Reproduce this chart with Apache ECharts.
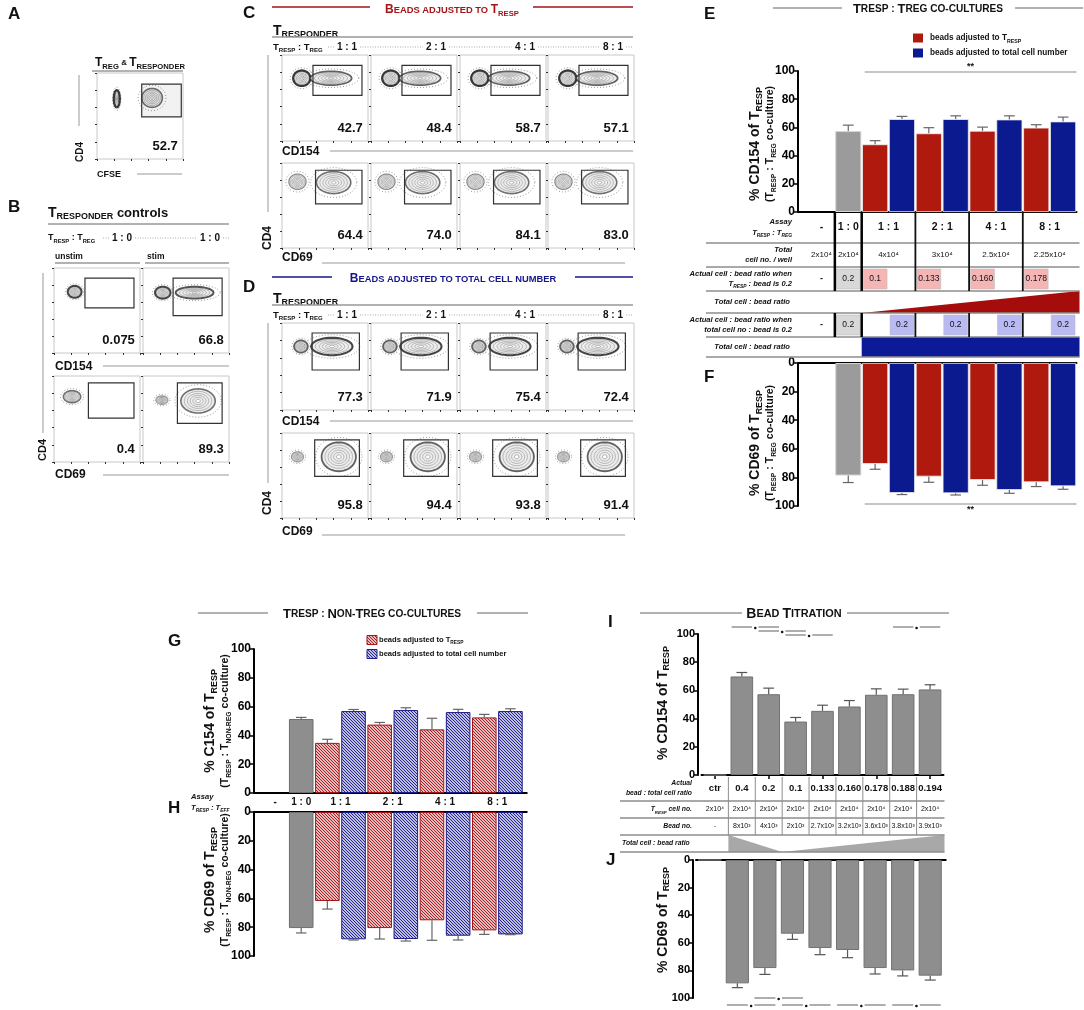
<!DOCTYPE html>
<html lang="en">
<head>
<meta charset="UTF-8" />
<title>Tresp : Treg co-cultures and bead titration</title>
<script src="https://cdn.jsdelivr.net/npm/echarts@6/dist/echarts.min.js"></script>
<style>
  body { margin: 0; background: #fff; }
  #chart { width: 1084px; height: 1010px; }
</style>
</head>
<body>
<div id="chart"></div>
<script>
const FONT = "'Liberation Sans', Arial, sans-serif";

// ---------- E / F : Tresp : Treg co-cultures ----------
const coRatios = ['-', '1 : 0', '1 : 1', '2 : 1', '4 : 1', '8 : 1'];
const eCtrl = [57.4, 61.6];            // [mean, mean + error]
const eResp = [48.0, 55.8, 57.6, 59.8];
const eRespHi = [50.6, 59.8, 60.2, 61.9];
const eTotal = [65.9, 65.9, 65.6, 64.2];
const eTotalHi = [67.8, 68.2, 68.2, 67.3];
const fCtrl = [78.7, 83.6];
const fResp = [70.6, 79.4, 81.8, 83.4];
const fRespHi = [74.3, 83.4, 85.5, 86.4];
const fTotal = [90.9, 91.1, 88.8, 86.2];
const fTotalHi = [92.0, 92.3, 91.1, 88.3];
const eTotalCells = ['2x10⁴', '2x10⁴', '4x10⁴', '3x10⁴', '2.5x10⁴', '2.25x10⁴'];
const eRatioResp = ['-', '0.2', '0.1', '0.133', '0.160', '0.178'];
const eRatioTotal = ['-', '0.2', '0.2', '0.2', '0.2', '0.2'];

// ---------- G / H : Tresp : non-Treg co-cultures ----------
const gCtrl = [51.4, 52.5];
const gResp = [34.8, 47.5, 44.2, 52.5];
const gRespHi = [37.3, 49.0, 51.9, 54.6];
const gTotal = [56.9, 57.6, 56.2, 56.9];
const gTotalHi = [58.0, 59.2, 58.1, 58.5];
const hCtrl = [80.6, 84.0];
const hResp = [61.8, 80.6, 75.2, 82.2];
const hRespHi = [67.4, 88.2, 89.1, 85.0];
const hTotal = [88.4, 88.2, 85.9, 85.0];
const hTotalHi = [88.9, 89.6, 88.9, 85.2];

// ---------- I / J : bead titration ----------
const iRatios = ['ctr', '0.4', '0.2', '0.1', '0.133', '0.160', '0.178', '0.188', '0.194'];
const iTrespCells = ['2x10⁴', '2x10⁴', '2x10⁴', '2x10⁴', '2x10⁴', '2x10⁴', '2x10⁴', '2x10⁴', '2x10⁴'];
const iBeads = ['-', '8x10³', '4x10³', '2x10³', '2.7x10³', '3.2x10³', '3.6x10³', '3.8x10³', '3.9x10³'];
const iCD154 = [0, 69.9, 57.3, 37.9, 45.5, 48.6, 56.9, 57.3, 60.7];
const iCD154Hi = [null, 72.7, 61.6, 40.8, 49.5, 52.8, 61.1, 60.9, 64.0];
const jCD69 = [0, 89.4, 78.3, 53.4, 63.8, 65.2, 78.3, 80.0, 83.8];
const jCD69Hi = [null, 92.5, 82.9, 57.5, 68.6, 70.8, 82.6, 84.0, 87.0];
const iSig = [[1, 2, 0], [2, 3, 1], [3, 4, 2], [7, 8, 0]];     // [cat a, cat b, row]
const jSig = [[1, 2, 1], [2, 3, 0], [3, 4, 1], [5, 6, 1], [7, 8, 1]];

// ---------- A-D : flow plots (populations: [cx, cy, rx, ry, weight], gates: [x0, y0, x1, y1]) ----------
const cdRatios = ['1 : 1', '2 : 1', '4 : 1', '8 : 1'];
const aPops = [[0.23, 0.70, 0.035, 0.10, 0.9], [0.64, 0.71, 0.12, 0.11, 0.5]];
const aGate = [0.52, 0.49, 0.98, 0.87];
const aPct = '52.7';
const bPops = [
  [[0.24, 0.72, 0.08, 0.07, 0.8]],
  [[0.23, 0.71, 0.09, 0.07, 0.8], [0.60, 0.71, 0.22, 0.07, 0.7]],
  [[0.21, 0.76, 0.10, 0.07, 0.5]],
  [[0.22, 0.72, 0.07, 0.05, 0.2], [0.64, 0.71, 0.20, 0.14, 0.5]]
];
const bGates = [[0.36, 0.53, 0.93, 0.88], [0.35, 0.44, 0.92, 0.88], [0.40, 0.51, 0.93, 0.92], [0.40, 0.45, 0.92, 0.92]];
const bPct = ['0.075', '66.8', '0.4', '89.3'];
const c154Pops = [[0.23, 0.73, 0.10, 0.09, 0.9], [0.57, 0.73, 0.24, 0.08, 0.6]];
const c154Gate = [0.36, 0.53, 0.93, 0.88];
const c154Pct = ['42.7', '48.4', '58.7', '57.1'];
const c69Pops = [[0.18, 0.78, 0.10, 0.09, 0.3], [0.60, 0.77, 0.20, 0.13, 0.5]];
const c69Gate = [0.39, 0.52, 0.93, 0.915];
const c69Pct = ['64.4', '74.0', '84.1', '83.0'];
const d154Pops = [[0.22, 0.73, 0.08, 0.07, 0.6], [0.58, 0.73, 0.24, 0.10, 0.8]];
const d154Gate = [0.35, 0.46, 0.90, 0.885];
const d154Pct = ['77.3', '71.9', '75.4', '72.4'];
const d69Pops = [[0.18, 0.72, 0.07, 0.06, 0.2], [0.66, 0.72, 0.20, 0.17, 0.6]];
const d69Gate = [0.38, 0.49, 0.90, 0.92];
const d69Pct = ['95.8', '94.4', '93.8', '91.4'];

const RED = '#b01a0e', BLUE = '#0c1a90', GREY = '#9b9b9b';

// ---------- helpers ----------
function rich(spec, o = {}) {
  const out = {};
  for (const k in spec) {
    const [size, va] = spec[k];
    out[k] = { fontFamily: FONT, fontWeight: o.weight || 'bold', fontStyle: o.italic ? 'italic' : 'normal', fontSize: size };
    if (va) out[k].verticalAlign = va; else out[k].lineHeight = size + 3;
  }
  return out;
}
function rs(size, o = {}) {
  const n = o.n || size * 0.75;
  return rich({ m: [size], T: [size], A: [size], a: [size * 0.78], s: [size * 0.64, 'bottom'],
    n: [n], t: [n * 0.65, 'bottom'] }, o);
}
// small caps: capitals big, lower case as small capitals
function sc(str) {
  let out = '', cur = null, buf = '';
  for (const ch of str) {
    const t = (ch >= 'A' && ch <= 'Z') ? 'A' : 'a';
    if (t !== cur && buf) { out += '{' + cur + '|' + buf + '}'; buf = ''; }
    cur = t; buf += ch.toUpperCase();
  }
  if (buf) out += '{' + cur + '|' + buf + '}';
  return out;
}
function hatch(color) {
  const c = document.createElement('canvas');
  c.width = c.height = 3;
  const x = c.getContext('2d');
  x.fillStyle = '#fff'; x.fillRect(0, 0, 3, 3);
  x.strokeStyle = color; x.lineWidth = 1.1;
  x.beginPath();
  x.moveTo(-1, -1); x.lineTo(4, 4);
  x.moveTo(-1, 2); x.lineTo(1, 4);
  x.moveTo(2, -1); x.lineTo(4, 1);
  x.stroke();
  return { image: c, repeat: 'repeat' };
}

const chart = echarts.init(document.getElementById('chart'));
const grid = [], xAxis = [], yAxis = [], series = [];

function errItem(color) {
  return function (params, api) {
    const x = api.value(0);
    const p0 = api.coord([x, api.value(1)]);
    const p1 = api.coord([x, api.value(2)]);
    const w = api.size([1, 0])[0] * 0.2;
    const st = { stroke: color, lineWidth: 1.2 };
    return { type: 'group', children: [
      { type: 'line', shape: { x1: p0[0], y1: p0[1], x2: p1[0], y2: p1[1] }, style: st },
      { type: 'line', shape: { x1: p1[0] - w, y1: p1[1], x2: p1[0] + w, y2: p1[1] }, style: st }
    ] };
  };
}

function barPanel(box, cats, inverse, offset, labelSize, xTicks) {
  const i = grid.length;
  grid.push({ left: box[0], top: box[1], width: box[2], height: box[3] });
  xAxis.push({ gridIndex: i, type: 'category', data: cats, position: inverse ? 'top' : 'bottom',
    axisLine: { onZero: false, lineStyle: { color: '#000', width: 2 } },
    axisTick: { show: !!xTicks, alignWithLabel: true, length: 4, lineStyle: { color: '#000', width: 1.5 } },
    axisLabel: { show: false }, splitLine: { show: false } });
  yAxis.push({ gridIndex: i, type: 'value', min: 0, max: 100, interval: 20, inverse: inverse, offset: offset,
    axisLine: { show: true, lineStyle: { color: '#000', width: 2 } },
    axisTick: { show: true, length: 4, lineStyle: { color: '#000', width: 1.5 } },
    axisLabel: { fontFamily: FONT, fontWeight: 'bold', fontSize: labelSize, color: '#000', margin: 3 },
    splitLine: { show: false } });
  return i;
}

function slotCats(r) {
  return [r[0], r[1]].concat(...r.slice(2).map(x => [x + ' a', x + ' b']));
}

function pairedSeries(ax, ctrl, resp, respHi, total, totalHi, st) {
  const n = 2 + resp.length * 2;
  const grey = Array(n).fill(null), red = Array(n).fill(null), blue = Array(n).fill(null);
  grey[1] = ctrl[0];
  const err = [[1, ctrl[0], ctrl[1]]];
  resp.forEach((v, k) => { red[2 + 2 * k] = v; err.push([2 + 2 * k, v, respHi[k]]); });
  total.forEach((v, k) => { blue[3 + 2 * k] = v; err.push([3 + 2 * k, v, totalHi[k]]); });
  const base = { type: 'bar', xAxisIndex: ax, yAxisIndex: ax, stack: 's' + ax, barCategoryGap: st.gap, silent: true };
  series.push(Object.assign({}, base, { data: grey, itemStyle: st.grey }));
  series.push(Object.assign({}, base, { data: red, itemStyle: st.red }));
  series.push(Object.assign({}, base, { data: blue, itemStyle: st.blue }));
  series.push({ type: 'custom', xAxisIndex: ax, yAxisIndex: ax, data: err, encode: { x: 0, y: [1, 2] },
    renderItem: errItem('#666'), silent: true, z: 5 });
}

// ---------- bar panels ----------
const slotsE = slotCats(coRatios);
const solid = {
  gap: '3%',
  grey: { color: GREY, borderColor: '#d4d4d4', borderWidth: 1 },
  red: { color: RED, borderColor: '#f0f0f0', borderWidth: 0.8 },
  blue: { color: BLUE, borderColor: '#f0f0f0', borderWidth: 0.8 }
};
const hatched = {
  gap: '6%',
  grey: { color: '#8e8e8e', borderColor: '#6e6e6e', borderWidth: 1 },
  red: { color: hatch('#a3161a'), borderColor: '#a3161a', borderWidth: 1 },
  blue: { color: hatch('#1c1c8a'), borderColor: '#1c1c8a', borderWidth: 1 }
};
const axE = barPanel([808, 71, 268.5, 141], slotsE, false, 10, 12);
pairedSeries(axE, eCtrl, eResp, eRespHi, eTotal, eTotalHi, solid);
const axF = barPanel([808, 363, 268.5, 143], slotsE, true, 10, 12);
pairedSeries(axF, fCtrl, fResp, fRespHi, fTotal, fTotalHi, solid);
const axG = barPanel([262, 649, 261.5, 144], slotsE, false, 8, 12);
pairedSeries(axG, gCtrl, gResp, gRespHi, gTotal, gTotalHi, hatched);
const axH = barPanel([262, 812, 261.5, 144], slotsE, true, 8, 12);
pairedSeries(axH, hCtrl, hResp, hRespHi, hTotal, hTotalHi, hatched);

function titrationPanel(box, inverse, offset, vals, hi, ticks) {
  const ax = barPanel(box, iRatios, inverse, offset, 11, ticks);
  series.push({ type: 'bar', xAxisIndex: ax, yAxisIndex: ax, data: vals, barCategoryGap: '16%', silent: true,
    itemStyle: { color: '#8e8e8e', borderColor: '#727272', borderWidth: 1 } });
  const err = [];
  vals.forEach((v, k) => { if (hi[k] != null) err.push([k, v, hi[k]]); });
  series.push({ type: 'custom', xAxisIndex: ax, yAxisIndex: ax, data: err, encode: { x: 0, y: [1, 2] },
    renderItem: errItem('#555'), silent: true, z: 5 });
  return ax;
}
const axI = titrationPanel([701.5, 634, 242, 141], false, 3.5, iCD154, iCD154Hi, true);
const axJ = titrationPanel([696, 860, 248, 138], true, 3, jCD69, jCD69Hi, false);

// ---------- flow plots ----------
function ellipse(cx, cy, a, b) {
  const p = [];
  for (let k = 0; k < 44; k++) {
    const t = k / 44 * Math.PI * 2;
    p.push([cx + a * Math.cos(t), cy + b * Math.sin(t)]);
  }
  return p;
}
function contourItem(params, api) {
  const c = api.coord([api.value(0), api.value(1)]);
  const a = api.size([api.value(2), 0])[0], b = api.size([0, api.value(3)])[1];
  const w = api.value(4);
  const kids = [];
  const ring = (f, style) => kids.push({ type: 'polygon', shape: { points: ellipse(c[0], c[1], a * f, b * f) }, style });
  ring(1.35, { fill: 'none', stroke: '#777', lineWidth: 0.9, lineDash: [0.8, 2.2] });
  ring(1.0, { fill: '#ececec', stroke: 'rgba(30,30,30,' + (0.3 + 0.65 * w) + ')', lineWidth: 0.8 + 1.6 * w });
  [0.8, 0.62, 0.46, 0.3].forEach(f => ring(f, { fill: 'none', stroke: 'rgba(70,70,70,0.45)', lineWidth: 0.7 }));
  ring(0.13, { fill: '#fff', stroke: 'rgba(70,70,70,0.55)', lineWidth: 0.7 });
  return { type: 'group', children: kids };
}
function gateItem(pct, fill) {
  return function (params, api) {
    const p0 = api.coord([api.value(0), api.value(3)]);
    const p1 = api.coord([api.value(2), api.value(1)]);
    const br = api.coord([0.94, 0.07]);
    return { type: 'group', children: [
      { type: 'rect', shape: { x: p0[0], y: p0[1], width: p1[0] - p0[0], height: p1[1] - p0[1] },
        style: { fill: fill || 'none', stroke: '#333', lineWidth: 1.2 } },
      { type: 'text', x: br[0], y: br[1],
        style: { text: pct, fontFamily: FONT, fontWeight: 'bold', fontSize: 13, fill: '#111', align: 'right', verticalAlign: 'bottom' } }
    ] };
  };
}
function flowPanel(box, pops, gate, pct, gateFill) {
  const i = grid.length;
  grid.push({ left: box[0], top: box[1], width: box[2], height: box[3], show: true, borderColor: '#c8c8c8', borderWidth: 1 });
  const ax = { gridIndex: i, type: 'value', min: 0, max: 1, interval: 0.2,
    axisLine: { show: false }, axisTick: { show: true, length: 2, lineStyle: { color: '#333' } },
    axisLabel: { show: false }, splitLine: { show: false } };
  xAxis.push(Object.assign({}, ax));
  yAxis.push(Object.assign({}, ax));
  series.push({ type: 'custom', xAxisIndex: i, yAxisIndex: i, data: pops, encode: { x: 0, y: 1 },
    renderItem: contourItem, clip: true, silent: true });
  series.push({ type: 'custom', xAxisIndex: i, yAxisIndex: i, data: [gate], encode: { x: [0, 2], y: [1, 3] },
    renderItem: gateItem(pct, gateFill), silent: true, z: 4 });
}
flowPanel([97, 73, 86, 86], aPops, aGate, aPct, 'rgba(0,0,0,0.05)');
[[54, 268, 86, 85], [143, 268, 86, 85], [54, 376, 86, 86], [143, 376, 86, 86]]
  .forEach((b, k) => flowPanel(b, bPops[k], bGates[k], bPct[k]));
const cCols = [282, 371, 460, 548];
cCols.forEach((x, k) => flowPanel([x, 55, 86, 86], c154Pops, c154Gate, c154Pct[k]));
cCols.forEach((x, k) => flowPanel([x, 163, 86, 85], c69Pops, c69Gate, c69Pct[k]));
cCols.forEach((x, k) => flowPanel([x, 323, 86, 87], d154Pops, d154Gate, d154Pct[k]));
cCols.forEach((x, k) => flowPanel([x, 433, 86, 85], d69Pops, d69Gate, d69Pct[k]));

chart.setOption({
  animation: false,
  backgroundColor: '#fff',
  textStyle: { fontFamily: FONT },
  grid, xAxis, yAxis, series
});

// ---------- annotations, tables, headings ----------
const G = [];
function T(x, y, text, st, rot) {
  G.push({ type: 'text', x, y, rotation: rot || 0, z: 100, silent: true,
    style: Object.assign({ text, fontFamily: FONT, fontSize: 10, fontWeight: 'bold', fill: '#111',
      align: 'left', verticalAlign: 'middle' }, st || {}) });
}
function Ln(x1, y1, x2, y2, color, w, dash) {
  const style = { stroke: color || '#999', lineWidth: w || 1 };
  if (dash) style.lineDash = dash;
  G.push({ type: 'line', z: 100, silent: true, shape: { x1, y1, x2, y2 }, style });
}
function Rc(x, y, w, h, fill, stroke, lw) {
  G.push({ type: 'rect', z: 99, silent: true, shape: { x, y, width: w, height: h },
    style: { fill, stroke: stroke || 'none', lineWidth: lw || 0 } });
}
function Pg(points, fill) {
  G.push({ type: 'polygon', z: 99, silent: true, shape: { points }, style: { fill } });
}
const px = (ax, v) => chart.convertToPixel({ xAxisIndex: ax }, v);
const py = (ax, v) => chart.convertToPixel({ yAxisIndex: ax }, v);
const UP = Math.PI / 2;
const dotted = (x1, x2, y) => { if (x2 > x1) Ln(x1, y, x2, y, '#aaa', 1, [1, 1.5]); };
function ratioRow(x, y, labels, xEnd, size) {
  T(x, y, '{m|T}{s|RESP}{m| : T}{s|REG}', { rich: rs(size || 9.5) });
  let start = x + 55;
  labels.forEach(([cx, t]) => {
    dotted(start, cx - 13, y);
    T(cx, y, t, { align: 'center', fontSize: 10 });
    start = cx + 13;
  });
  dotted(start, xEnd, y);
}

// panel letters
[['A', 8, 14], ['B', 8, 207], ['C', 243, 13], ['D', 243, 287], ['E', 704, 14], ['F', 704, 377],
 ['G', 168, 641], ['H', 168, 808], ['I', 608, 622], ['J', 606, 860]]
  .forEach(([t, x, y]) => T(x, y, t, { fontSize: 17 }));

// A
T(140, 63, '{T|T}{s|REG}{n| & }{T|T}{s|RESPONDER}', { align: 'center', rich: rs(12, { n: 8 }) });
Ln(92, 71, 183, 71, '#999', 1.5);
T(80, 152, 'CD4', { align: 'center', fontSize: 10 }, UP);
Ln(79, 75, 79, 126, '#999', 1);
T(97, 175, 'CFSE', { fontSize: 9 });
Ln(137, 174, 182, 174, '#999', 1);

// B
T(48, 213, '{T|T}{s|RESPONDER}{n| controls}', { rich: rs(14, { n: 13 }) });
Ln(48, 224, 229, 224, '#999', 1.5);
ratioRow(48, 238, [[122, '1 : 0'], [210, '1 : 0']], 229, 9);
T(55, 257, 'unstim', { fontSize: 8.5 });
Ln(55, 263, 140, 263, '#999', 1.5);
T(147, 257, 'stim', { fontSize: 8.5 });
Ln(145, 263, 229, 263, '#999', 1.5);
T(55, 367, 'CD154', { fontSize: 12 });
Ln(103, 366, 229, 366, '#999', 1);
T(55, 475, 'CD69', { fontSize: 12 });
Ln(103, 475, 229, 475, '#999', 1);
T(43, 450, 'CD4', { align: 'center', fontSize: 11 }, UP);
Ln(43, 273, 43, 433, '#999', 1);

// C
Ln(272, 7, 370, 7, '#a51515', 1.5);
Ln(533, 7, 633, 7, '#a51515', 1.5);
T(452, 10, sc('Beads adjusted to T') + '{s|RESP}', { align: 'center', fill: '#a51515', rich: rs(12) });
T(273, 31, '{T|T}{s|RESPONDER}', { rich: rs(14) });
Ln(272, 37, 633, 37, '#999', 1.5);
ratioRow(273, 47, cCols.map((x, k) => [x + 65, cdRatios[k]]), 633);
T(282, 152, 'CD154', { fontSize: 12 });
Ln(330, 151, 633, 151, '#999', 1);
T(282, 258, 'CD69', { fontSize: 12 });
Ln(322, 263, 625, 263, '#999', 1);
T(268, 238, 'CD4', { align: 'center', fontSize: 12 }, UP);
Ln(268, 55, 268, 212, '#999', 1);

// D
Ln(272, 277, 332, 277, '#16168c', 1.5);
Ln(575, 277, 633, 277, '#16168c', 1.5);
T(453, 279, sc('Beads adjusted to total cell number'), { align: 'center', fill: '#16168c', rich: rs(12) });
T(273, 299, '{T|T}{s|RESPONDER}', { rich: rs(14) });
Ln(272, 305, 633, 305, '#999', 1.5);
ratioRow(273, 315, cCols.map((x, k) => [x + 65, cdRatios[k]]), 633);
T(282, 422, 'CD154', { fontSize: 12 });
Ln(330, 421, 633, 421, '#999', 1);
T(282, 532, 'CD69', { fontSize: 12 });
Ln(322, 535, 625, 535, '#999', 1);
T(268, 503, 'CD4', { align: 'center', fontSize: 12 }, UP);
Ln(268, 323, 268, 483, '#999', 1);

// E heading + legend
Ln(773, 8, 842, 8, '#999', 1.5);
Ln(1015, 8, 1083, 8, '#999', 1.5);
T(928, 9, sc('Tresp : Treg co-cultures'), { align: 'center', rich: rs(13) });
Rc(913, 33.5, 10, 9, RED);
T(930, 38, '{m|beads adjusted to T}{s|RESP}', { rich: rs(8.2) });
Rc(913, 48.5, 10, 9, BLUE);
T(930, 53, '{m|beads adjusted to total cell number}', { rich: rs(8.2) });

// E / F axis titles
T(762, 144, '{m|% CD154 of T}{s|RESP}\n{n|(T}{t|RESP}{n| : T}{t|REG}{n| co-culture)}',
  { align: 'center', rich: rs(14, { n: 10.5 }) }, UP);
T(762, 443, '{m|% CD69 of T}{s|RESP}\n{n|(T}{t|RESP}{n| : T}{t|REG}{n| co-culture)}',
  { align: 'center', rich: rs(14, { n: 10.5 }) }, UP);

// E table
(function () {
  const ax = axE;
  const s = px(ax, 1) - px(ax, 0);
  const L = i => px(ax, i) - s / 2;
  const y0 = py(ax, 0);
  const r = [0, 31, 55, 79, 101, 125, 145].map(d => y0 + d);
  const mid = k => (r[k] + r[k + 1]) / 2;
  const xEnd = L(10) + 3;
  const colX = [px(ax, 0), px(ax, 1)].concat([0, 1, 2, 3].map(k => L(3 + 2 * k)));
  // axis line to the offset y axis
  Ln(L(0) - 10, y0, L(0), y0, '#000', 2);
  Ln(L(0) - 10, py(axF, 0), L(0), py(axF, 0), '#000', 2);
  // shapes
  Pg([[L(2), r[4]], [xEnd, r[4]], [xEnd, r[3]]], '#a50d0d');
  Rc(L(2), r[5], xEnd - L(2), r[6] - r[5], '#0c1a98');
  const cell = (slot, row, fill, text) => {
    Rc(L(slot) + 1.5, r[row] + 2, s - 3, r[row + 1] - r[row] - 4, fill, '#bdbdbd', 0.6);
    T(L(slot) + s / 2, mid(row), text, { align: 'center', fontSize: 8.5, fontWeight: 'normal' });
  };
  T(colX[0], mid(2), eRatioResp[0], { align: 'center', fontSize: 9 });
  cell(1, 2, '#d8d8d8', eRatioResp[1]);
  eRatioResp.slice(2).forEach((v, k) => cell(2 + 2 * k, 2, '#f6b5b5', v));
  T(colX[0], mid(4), eRatioTotal[0], { align: 'center', fontSize: 9 });
  cell(1, 4, '#d8d8d8', eRatioTotal[1]);
  eRatioTotal.slice(2).forEach((v, k) => cell(3 + 2 * k, 4, '#b9b9f4', v));
  // rules
  r.slice(1).forEach(y => Ln(706, y, xEnd, y, '#8c8c8c', 1.5));
  [1, 2].forEach(i => { Ln(L(i), r[0], L(i), r[3], '#000', 2.5); Ln(L(i), r[4], L(i), r[5], '#000', 2.5); });
  [4, 6, 8].forEach(i => { Ln(L(i), r[0], L(i), r[3], '#111', 1.8); Ln(L(i), r[4], L(i), r[5], '#111', 1.8); });
  // texts
  coRatios.forEach((t, k) => T(colX[k], mid(0), t, { align: 'center', fontSize: 10.5 }));
  eTotalCells.forEach((t, k) => T(colX[k], mid(1), t, { align: 'center', fontSize: 8, fontWeight: 'normal' }));
  const lr = { align: 'right', rich: rs(7.6, { italic: true }) };
  T(792, mid(0), '{m|Assay}\n{m|T}{s|RESP}{m| : T}{s|REG}', lr);
  T(792, mid(1), '{m|Total}\n{m|cell no. / well}', lr);
  T(792, mid(2), '{m|Actual cell : bead ratio when}\n{m|T}{s|RESP}{m| : bead is 0.2}', lr);
  T(790, mid(3), '{m|Total cell : bead ratio}', lr);
  T(792, mid(4), '{m|Actual cell : bead ratio when}\n{m|total cell no : bead is 0.2}', lr);
  T(790, mid(5), '{m|Total cell : bead ratio}', lr);
  // significance brackets
  const top = py(axE, 100), bot = py(axF, 100);
  Ln(L(2) + 3, top + 1, xEnd - 3, top + 1, '#8c8c8c', 1.2);
  T((L(2) + xEnd) / 2, top - 4, '**', { align: 'center', fontSize: 9 });
  Ln(L(2) + 3, bot - 2, xEnd - 3, bot - 2, '#8c8c8c', 1.2);
  T((L(2) + xEnd) / 2, bot + 4, '**', { align: 'center', fontSize: 9 });
})();

// G heading + legend
Ln(198, 613, 268, 613, '#999', 1.5);
Ln(477, 613, 528, 613, '#999', 1.5);
T(372, 614, sc('Tresp : Non-Treg co-cultures'), { align: 'center', rich: rs(13) });
G.push({ type: 'rect', z: 99, silent: true, shape: { x: 367, y: 635.5, width: 10, height: 9 },
  style: { fill: hatch('#a3161a'), stroke: '#a3161a', lineWidth: 1 } });
T(379, 640, '{m|beads adjusted to T}{s|RESP}', { rich: rs(7.6) });
G.push({ type: 'rect', z: 99, silent: true, shape: { x: 367, y: 649.5, width: 10, height: 9 },
  style: { fill: hatch('#1c1c8a'), stroke: '#1c1c8a', lineWidth: 1 } });
T(379, 654, '{m|beads adjusted to total cell number}', { rich: rs(7.6) });
T(217, 721, '{m|% C154 of T}{s|RESP}\n{n|(T}{t|RESP}{n| : T}{t|NON-REG}{n| co-culture)}',
  { align: 'center', rich: rs(14, { n: 10.5 }) }, UP);
T(217, 880, '{m|% CD69 of T}{s|RESP}\n{n|(T}{t|RESP}{n| : T}{t|NON-REG}{n| co-culture)}',
  { align: 'center', rich: rs(14, { n: 10.5 }) }, UP);

// G / H middle row
(function () {
  const s = px(axG, 1) - px(axG, 0);
  const L = i => px(axG, i) - s / 2;
  const colX = [px(axG, 0), px(axG, 1), L(3), L(5), L(7), L(9)];
  const yG = py(axG, 0), yH = py(axH, 0);
  Ln(L(0) - 8, yG, L(0), yG, '#000', 2);
  Ln(L(0) - 8, yH, L(0), yH, '#000', 2);
  Ln(L(10), yG, L(10) + 4, yG, '#000', 2);
  Ln(L(10), yH, L(10) + 4, yH, '#000', 2);
  const midY = (yG + yH) / 2;
  coRatios.forEach((t, k) => T(colX[k], midY, t, { align: 'center', fontSize: 10 }));
  T(191, midY, '{m|Assay}\n{m|T}{s|RESP}{m| : T}{s|EFF}', { rich: rs(7.6, { italic: true }) });
})();

// I heading + titles
Ln(640, 613, 742, 613, '#999', 1.5);
Ln(847, 613, 949, 613, '#999', 1.5);
T(794, 614, sc('Bead Titration'), { align: 'center', rich: rs(14) });
T(663, 703, '{m|% CD154 of T}{s|RESP}', { align: 'center', rich: rs(14) }, UP);
T(663, 920, '{m|% CD69 of T}{s|RESP}', { align: 'center', rich: rs(14) }, UP);

// I table
(function () {
  const s = px(axI, 1) - px(axI, 0);
  const L = i => px(axI, i) - s / 2;
  const y0 = py(axI, 0);
  const r = [0, 26, 43, 60, 77].map(d => y0 + d);
  const mid = k => (r[k] + r[k + 1]) / 2;
  const xEnd = L(9) + 1;
  Pg([[L(1), r[3]], [L(3), r[4]], [xEnd, r[3]], [xEnd, r[4]], [L(1), r[4]]], '#a8a8a8');
  r.slice(1).forEach(y => Ln(620, y, xEnd, y, '#8c8c8c', 1.5));
  for (let i = 1; i <= 8; i++) Ln(L(i), r[0] + 2, L(i), r[3], '#8c8c8c', 1);
  iRatios.forEach((t, k) => T(px(axI, k), mid(0), t, { align: 'center', fontSize: 9.5 }));
  iTrespCells.forEach((t, k) => T(px(axI, k), mid(1), t, { align: 'center', fontSize: 7, fontWeight: 'normal' }));
  iBeads.forEach((t, k) => T(px(axI, k), mid(2), t, { align: 'center', fontSize: 7, fontWeight: 'normal' }));
  const lr = { align: 'right', rich: rs(6.8, { italic: true }) };
  T(692, mid(0), '{m|Actual}\n{m|bead : total cell ratio}', lr);
  T(692, mid(1), '{m|T}{s|RESP}{m| cell no.}', lr);
  T(692, mid(2), '{m|Bead no.}', lr);
  T(622, mid(3), '{m|Total cell : bead ratio}', { rich: rs(6.8, { italic: true }) });
  Ln(L(9), py(axJ, 0), L(9) + 3, py(axJ, 0), '#000', 2);
})();

// significance marks for I and J
function sig(ax, list, baseY, step) {
  const s = px(ax, 1) - px(ax, 0);
  list.forEach(([a, b, row]) => {
    const y = baseY + row * step;
    const xa = px(ax, a), xb = px(ax, b), h = s * 0.38;
    Ln(xa - h, y, xa + h, y, '#777', 1.2);
    Ln(xb - h, y, xb + h, y, '#777', 1.2);
    G.push({ type: 'circle', z: 100, silent: true, shape: { cx: (xa + xb) / 2, cy: y + 1, r: 1.3 }, style: { fill: '#111' } });
  });
}
sig(axI, iSig, py(axI, 100) - 7, 4);
sig(axJ, jSig, py(axJ, 100), 7);

chart.setOption({ graphic: G });
</script>
</body>
</html>
